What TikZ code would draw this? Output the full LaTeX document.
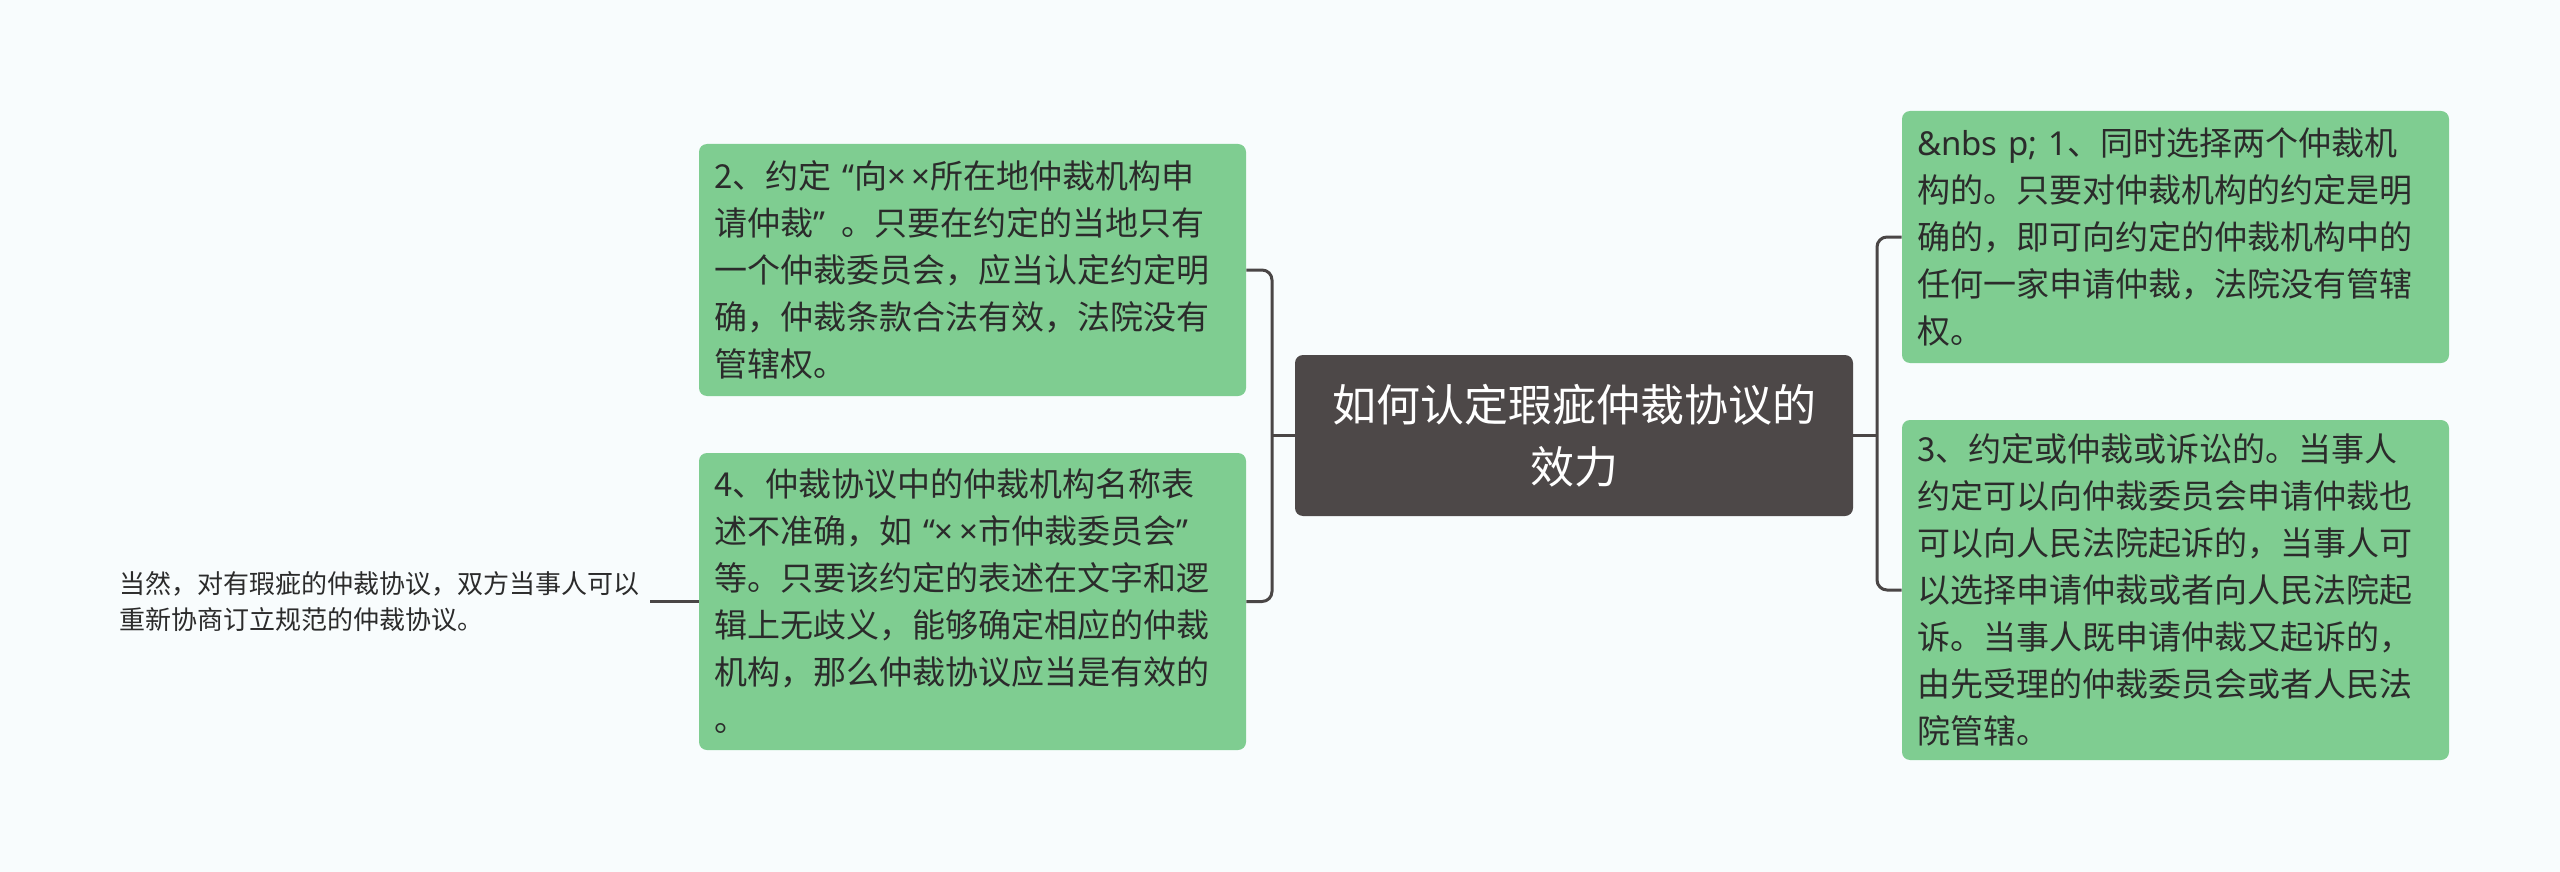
\documentclass[tikz,border=0pt]{standalone}
\usepackage{fontspec}
\newfontfamily\cjk{Noto Sans CJK SC}
\newfontfamily\latn{Noto Sans}
\definecolor{bgcol}{HTML}{F8FCFD}
\definecolor{leafgreen}{HTML}{7FCD91}
\definecolor{rootgray}{HTML}{4D4848}
\definecolor{linegray}{HTML}{4A4646}
\definecolor{textdark}{HTML}{2B2B2B}
\begin{document}
\begin{tikzpicture}[x=0.5pt, y=-0.5pt,
                          rootnode/.style={rectangle, rounded corners=4pt, fill=rootgray, text=white, minimum width=279pt, minimum height=80.5pt, align=center, font=\cjk\fontsize{22pt}{31pt}\selectfont},
                          greennode/.style={rectangle, rounded corners=4pt, fill=leafgreen, text=textdark, text width=258.5pt, inner xsep=7.5pt, inner ysep=0pt, align=left, font=\cjk\fontsize{16.5pt}{23.5pt}\selectfont},
                          plainnode/.style={inner sep=5pt, align=left, text=textdark, font=\cjk\fontsize{13pt}{18pt}\selectfont},
                          link/.style={draw=linegray, line width=1.5pt, rounded corners=5pt},
                      ]
                      \fill[bgcol] (0,0) rectangle (2560,872);

                      %Nodes
                      \node[rootnode]      (root)    at (1574,435.5)   {如何认定瑕疵仲裁协议的\\效力};
                      \node[greennode, minimum height=126pt]    (lt)     at (972.5,270)    {2、约定{\latn\ “}向{\latn×\,×}所在地仲裁机构申\\请仲裁{\latn”\ }\,。只要在约定的当地只有\\一个仲裁委员会，应当认定约定明\\确，仲裁条款合法有效，法院没有\\管辖权。};
                      \node[greennode, minimum height=148.5pt]  (lb)     at (972.5,601.5)  {4、仲裁协议中的仲裁机构名称表\\述不准确，如{\latn\ “×\,×}市仲裁委员会{\latn”}\\等。只要该约定的表述在文字和逻\\辑上无歧义，能够确定相应的仲裁\\机构，那么仲裁协议应当是有效的\\。};
                      \node[greennode, minimum height=126pt]    (rt)     at (2175.5,237)   {{\latn\&nbs p; 1}、同时选择两个仲裁机\\构的。只要对仲裁机构的约定是明\\确的，即可向约定的仲裁机构中的\\任何一家申请仲裁，法院没有管辖\\权。};
                      \node[greennode, minimum height=170pt]    (rb)     at (2175.5,590)   {3、约定或仲裁或诉讼的。当事人\\约定可以向仲裁委员会申请仲裁也\\可以向人民法院起诉的，当事人可\\以选择申请仲裁或者向人民法院起\\诉。当事人既申请仲裁又起诉的，\\由先受理的仲裁委员会或者人民法\\院管辖。};
                      \node[plainnode, anchor=east]    (leaf)   at (650,601.5)    {当然，对有瑕疵的仲裁协议，双方当事人可以\\重新协商订立规范的仲裁协议。};
                      \coordinate (jl) at (1272,435.5);
                      \coordinate (jr) at (1877,435.5);

                      %Lines
                      \draw[link] (root.west) -- (jl);
                      \draw[link] (lt.east) -| (jl) |- (lb.east);
                      \draw[link] (root.east) -- (jr);
                      \draw[link] (rt.west) -| (jr) |- (rb.west);
                      \draw[link] (lb.west) -- (leaf.east);
                  \end{tikzpicture}
\end{document}
